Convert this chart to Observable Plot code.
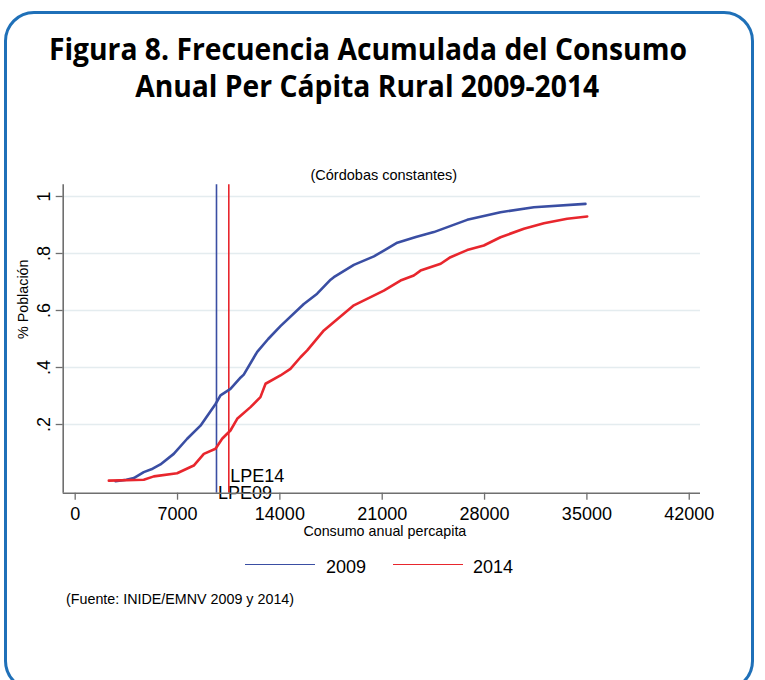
<!DOCTYPE html>
<html>
<head>
<meta charset="utf-8">
<script src="https://cdn.jsdelivr.net/npm/d3@7"></script>
<script src="https://cdn.jsdelivr.net/npm/@observablehq/plot@0.6"></script>
<style>
  html, body { margin: 0; padding: 0; background: #fff; }
  #page { position: relative; width: 765px; height: 680px; overflow: hidden; background: #fff; }
  #frame { position: absolute; left: 4px; top: 11px; width: 750px; height: 680px; border: 3px solid #1f70b8; border-radius: 30px; box-sizing: border-box; }
  .tline { position: absolute; left: 0; width: 765px; text-align: center; font-family: "Open Sans", sans-serif; font-weight: 700; font-size: 29.5px; line-height: 1; color: #000; white-space: nowrap; }
  .tline span { display: inline-block; transform-origin: center; }
  #plot { position: absolute; left: 0; top: 0; }
  .lg { position: absolute; font-family: "Liberation Sans", Arial, sans-serif; font-size: 18px; color: #000; line-height: 1; white-space: nowrap; }
  .lgline { position: absolute; height: 1.6px; }
  #src { position: absolute; left: 66px; top: 591px; font-family: "Liberation Sans", Arial, sans-serif; font-size: 14.3px; color: #000; white-space: nowrap; }
</style>
</head>
<body>
<div id="page">
  <div id="frame"></div>
  <div id="plot"></div>
  <div class="tline" id="t1" style="top:33.5px"><span>Figura 8. Frecuencia Acumulada del Consumo</span></div>
  <div class="tline" id="t2" style="top:70.5px"><span>Anual Per Cápita Rural 2009-2014</span></div>
  <div class="lgline" style="left:245px; top:563.5px; width:70px; background:#3a4ea3;"></div>
  <div class="lg" style="left:326px; top:558px;">2009</div>
  <div class="lgline" style="left:393px; top:563.5px; width:70px; background:#e8262d;"></div>
  <div class="lg" style="left:473px; top:558px;">2014</div>
  <div id="src">(Fuente: INIDE/EMNV 2009 y 2014)</div>
</div>
<script>
// ---- data ----
const x2009 = [2760, 3500, 4010, 4690, 5300, 5830, 6740, 7660, 8570, 9600, 9940, 10620, 11320, 11530, 12450, 13200, 14040, 15640, 16550, 17470, 17690, 19060, 20430, 21110, 22030, 23300, 24530, 26810, 29090, 31370, 34900];
const y2009 = [0.001, 0.006, 0.012, 0.033, 0.045, 0.060, 0.097, 0.150, 0.196, 0.272, 0.302, 0.325, 0.365, 0.375, 0.455, 0.500, 0.545, 0.623, 0.659, 0.708, 0.717, 0.760, 0.790, 0.810, 0.838, 0.858, 0.875, 0.918, 0.945, 0.962, 0.974];
const x2014 = [2300, 4690, 5380, 6970, 8110, 8800, 9600, 10050, 10620, 11080, 11990, 12670, 13020, 14040, 14720, 15410, 15870, 17010, 19060, 21110, 22250, 23160, 23620, 25000, 25670, 26810, 27950, 29090, 30690, 32060, 33650, 35020];
const y2014 = [0.003, 0.006, 0.018, 0.029, 0.056, 0.097, 0.115, 0.150, 0.179, 0.220, 0.261, 0.296, 0.343, 0.372, 0.395, 0.436, 0.460, 0.530, 0.618, 0.670, 0.705, 0.723, 0.740, 0.764, 0.787, 0.812, 0.828, 0.857, 0.887, 0.906, 0.922, 0.930];
const lpeValues = [9665, 10507];
const lpeLabels = ["LPE09", "LPE14"];
const lpeLabelY = [-0.063, 0.0];
const xTicks = [0, 7000, 14000, 21000, 28000, 35000, 42000];
const yTicks = [0.2, 0.4, 0.6, 0.8, 1];
const yTickLabels = [".2", ".4", ".6", ".8", "1"];

const BLUE = "#3a4ea3", RED = "#e8262d", AXIS = "#6f6f6f";
const d09 = x2009.map((x, i) => ({x, y: y2009[i]}));
const d14 = x2014.map((x, i) => ({x, y: y2014[i]}));
const labels = lpeValues.map((x, i) => ({x, y: lpeLabelY[i], t: lpeLabels[i]}));

const chart = Plot.plot({
  width: 765,
  height: 680,
  marginLeft: 62.7,
  marginRight: 65,
  marginTop: 184.3,
  marginBottom: 187.3,
  style: {fontFamily: "'Liberation Sans', Arial, sans-serif", background: "transparent", color: "#000"},
  x: {domain: [-820, 42770]},
  y: {domain: [-0.041, 1.041]},
  marks: [
    Plot.gridY(yTicks, {stroke: "#e4ecef", strokeOpacity: 1, strokeWidth: 1.5}),
    Plot.ruleX([lpeValues[0]], {stroke: BLUE, strokeWidth: 1.6}),
    Plot.ruleX([lpeValues[1]], {stroke: RED, strokeWidth: 1.6}),
    Plot.line(d09, {x: "x", y: "y", stroke: BLUE, strokeWidth: 2.6}),
    Plot.line(d14, {x: "x", y: "y", stroke: RED, strokeWidth: 2.6}),
    Plot.text(labels, {x: "x", y: "y", text: "t", textAnchor: "start", lineAnchor: "bottom", dx: 1.5, fontSize: 18, fill: "#000"}),
    Plot.ruleY([-0.041], {stroke: AXIS, strokeWidth: 1.6}),
    Plot.ruleX([-820], {stroke: AXIS, strokeWidth: 1.6}),
    Plot.axisX(xTicks, {tickSize: 7, tickPadding: 7.5, fontSize: 18, stroke: AXIS, strokeWidth: 1.3, tickFormat: d => String(d), label: null}),
    Plot.axisY(yTicks, {tickSize: 7, tickPadding: 6, tickRotate: -90, fontSize: 18, stroke: AXIS, strokeWidth: 1.3, tickFormat: d => yTickLabels[yTicks.indexOf(d)], label: null}),
    Plot.text(["(Córdobas constantes)"], {frameAnchor: "top", dy: -9.5, dx: 2, lineAnchor: "middle", fontSize: 14.5, fill: "#000"}),
    Plot.text(["Consumo anual percapita"], {frameAnchor: "bottom", dy: 38.5, dx: 3, lineAnchor: "middle", fontSize: 14.3, fill: "#000"}),
    Plot.text(["% Población"], {frameAnchor: "left", dx: -40, rotate: -90, lineAnchor: "middle", fontSize: 14.3, fill: "#000"})
  ]
});
document.getElementById("plot").appendChild(chart);

// fit the bold title to the condensed width of the original
const s1 = document.querySelector("#t1 span"), s2 = document.querySelector("#t2 span");
const k = 638 / s1.getBoundingClientRect().width;
s1.style.transform = `scaleX(${k})`;
s2.style.transform = `scaleX(${k})`;
document.getElementById("t1").style.left = "-15px";
document.getElementById("t2").style.left = "-15px";
</script>
</body>
</html>
